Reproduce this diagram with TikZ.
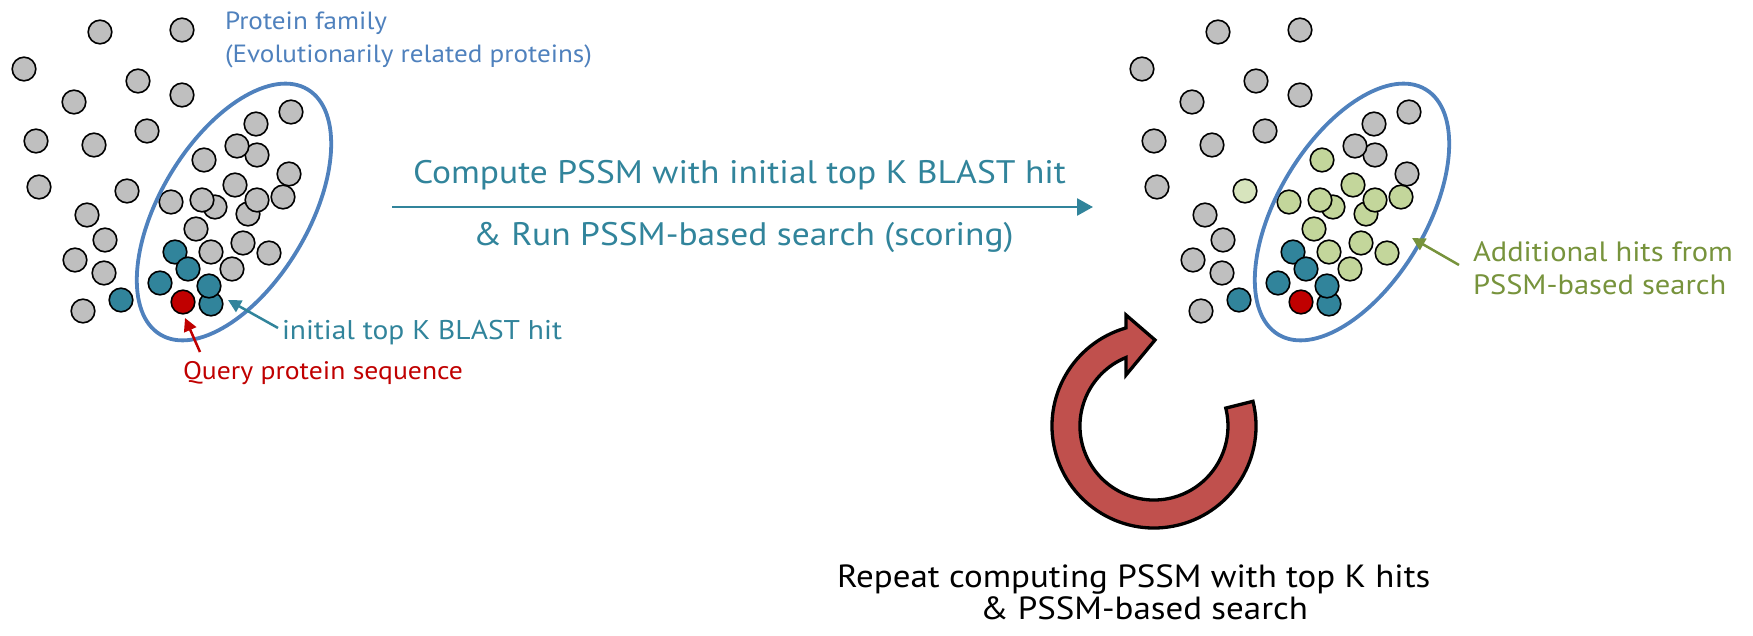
\documentclass[tikz,border=0pt]{standalone}
\usepackage{fontspec}
\setmainfont{PT Sans}[FakeStretch=1.09]
\usetikzlibrary{arrows.meta,calc}

\definecolor{cGray}{HTML}{BFBFBF}
\definecolor{cTeal}{HTML}{31849B}
\definecolor{cRed}{HTML}{C00000}
\definecolor{cGreen}{HTML}{C3D69B}
\definecolor{cPale}{HTML}{D7E4BD}
\definecolor{cBlue}{HTML}{4F81BD}
\definecolor{cOlive}{HTML}{77933C}
\definecolor{cLoop}{HTML}{C0504D}

% select a font size at which the sample text #2 is #1 pt wide
\newlength\fitlen
\newcommand\fitfont[2]{%
  \settowidth\fitlen{\fontsize{20}{24}\selectfont #2}%
  \pgfmathsetmacro\fitsize{20*#1/\fitlen}%
  \fontsize{\fitsize}{\fitsize}\selectfont}

\tikzset{
  prot/.style={circle, draw=black, line width=1.6pt, minimum size=23.6pt, inner sep=0pt},
  family/.style={draw=cBlue, line width=3.8pt},
  lbl/.style={inner sep=0pt, outer sep=0pt, anchor=base west},
  pointer/.style={line width=2.5pt, -{Triangle[length=13pt,width=13pt]}},
}

\begin{document}
\begin{tikzpicture}[x=1pt, y=1pt]
\path[use as bounding box] (0,0) rectangle (1753,635);

% proteins: index / x / y / colour before / colour after the PSSM search
\foreach \n/\x/\y/\l/\r in {
  1/100/603/cGray/cGray, 2/182/605/cGray/cGray, 3/24/566/cGray/cGray,
  4/138/554/cGray/cGray, 5/182/540/cGray/cGray, 6/74/533/cGray/cGray,
  7/291/523/cGray/cGray, 8/256/511/cGray/cGray, 9/147/504/cGray/cGray,
  10/36/494/cGray/cGray, 11/94/490/cGray/cGray, 13/257/480/cGray/cGray,
  12/237/489/cGray/cGray, 14/204/475/cGray/cGreen, 15/289/461/cGray/cGray,
  16/39/448/cGray/cGray, 17/127/444/cGray/cPale, 18/235/450/cGray/cGreen,
  19/171/433/cGray/cGreen, 20/215/428/cGray/cGreen, 21/202/435/cGray/cGreen,
  22/248/421/cGray/cGreen, 23/257/435/cGray/cGreen, 24/283/438/cGray/cGreen,
  25/87/420/cGray/cGray, 26/196/406/cGray/cGreen, 27/105/395/cGray/cGray,
  28/243/392/cGray/cGreen, 29/211/383/cGray/cGreen, 30/269/382/cGray/cGreen,
  31/75/375/cGray/cGray, 32/232/366/cGray/cGreen, 33/104/362/cGray/cGray,
  34/83/324/cGray/cGray,
  35/175/383/cTeal/cTeal, 36/188/366/cTeal/cTeal, 37/160/352/cTeal/cTeal,
  39/121/335/cTeal/cTeal, 40/211/331/cTeal/cTeal, 38/209/349/cTeal/cTeal,
  41/183/333/cRed/cRed} {
  \node[prot, fill=\l] (L\n) at (\x,\y) {};
  \node[prot, fill=\r] (R\n) at (\x+1118,\y) {};
}

% protein family outlines
\draw[family] (234,423) ellipse [x radius=143pt, y radius=74pt, rotate=59];
\draw[family] (1352,423) ellipse [x radius=143pt, y radius=74pt, rotate=59];

% labels of the left cluster
\node[lbl, text=cBlue] (fam1) at (225,605) {\fitfont{367}{(Evolutionarily related proteins)}Protein family};
\node[lbl, text=cBlue] (fam2) at (225,572) {\fitfont{367}{(Evolutionarily related proteins)}(Evolutionarily related proteins)};
\node[lbl, text=cTeal] (blast) at (282,295) {\fitfont{280}{initial top K BLAST hit}initial top K BLAST hit};
\node[lbl, text=cRed] (query) at (183,255) {\fitfont{280}{Query protein sequence}Query protein sequence};

\coordinate (blastTail) at (278,307);
\coordinate (blastTip) at (228,335);
\draw[pointer, cTeal] (blastTail) -- (blastTip);
\coordinate (queryTail) at (200,283);
\coordinate (queryTip) at (185,317);
\draw[pointer, cRed] (queryTail) -- (queryTip);

% main step
\coordinate (stepStart) at (392,428);
\coordinate (stepEnd) at (1093,428);
\draw[cTeal, line width=2.7pt, -{Triangle[length=16pt,width=17pt]}] (stepStart) -- (stepEnd);
\node[lbl, text=cTeal] (step1) at (413,451) {\fitfont{653}{Compute PSSM with initial top K BLAST hit}Compute PSSM with initial top K BLAST hit};
\node[lbl, text=cTeal] (step2) at (473,389) {\fitfont{653}{Compute PSSM with initial top K BLAST hit}\& Run PSSM-based search (scoring)};

% additional hits
\node[lbl, text=cOlive] (add1) at (1473,373) {\fitfont{260}{Additional hits from}Additional hits from};
\node[lbl, text=cOlive] (add2) at (1473,340) {\fitfont{260}{Additional hits from}PSSM-based search};
\coordinate (addTail) at (1459,370);
\coordinate (addTip) at (1412,397);
\draw[pointer, cOlive] (addTail) -- (addTip);

% iteration loop
\draw[fill=cLoop, draw=black, line width=3.3pt, line join=miter]
  ($(1154,209)+(14:102)$) arc[start angle=14, end angle=-254, radius=102pt]
  -- (1126,320) -- (1155,295) -- (1126,260)
  -- (1126,277.5) arc[start angle=-247.8, end angle=14, radius=74pt] -- cycle;
\node[lbl] (rep1) at (837,48) {\fitfont{328}{\& PSSM-based search}Repeat computing PSSM with top K hits};
\node[lbl] (rep2) at (980,16) {\fitfont{328}{\& PSSM-based search}\& PSSM-based search};
\end{tikzpicture}
\end{document}
